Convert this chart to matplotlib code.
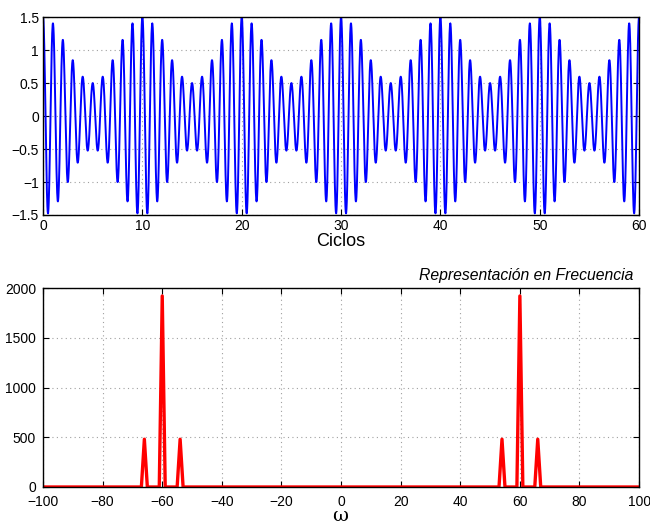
import numpy as np
import matplotlib
matplotlib.use("Agg")
import matplotlib.pyplot as plt
from matplotlib.ticker import FuncFormatter

plt.rcParams['font.family'] = ['Liberation Sans', 'DejaVu Sans']
plt.rcParams['mathtext.fontset'] = 'dejavuserif'

# ---- data ----
# time signal: AM tone, 60 carrier cycles, envelope with 6 cycles, modulation index 0.5
n_cycles = 60
carrier_cycles = 60
envelope_cycles = 6
mod_index = 0.5
samples_per_cycle = 64

# spectrum: non-zero bins (omega) and magnitudes
spec_omega = [-66, -60, -54, 54, 60, 66]
spec_mag = [480, 1920, 480, 480, 1920, 480]
omega_range = (-100, 100)

top_yticks = [-1.5, -1, -0.5, 0, 0.5, 1, 1.5]
top_xticks = [0, 10, 20, 30, 40, 50, 60]
bot_xticks = [-100, -80, -60, -40, -20, 0, 20, 40, 60, 80, 100]
bot_yticks = [0, 500, 1000, 1500, 2000]

# ---- build series ----
N = n_cycles * samples_per_cycle
t = np.arange(N + 1) / samples_per_cycle
x = (1 + mod_index * np.cos(2 * np.pi * envelope_cycles * t / n_cycles)) * \
    np.cos(2 * np.pi * carrier_cycles * t / n_cycles)

w = np.arange(omega_range[0], omega_range[1] + 1)
mag = np.zeros_like(w, dtype=float)
for o, m in zip(spec_omega, spec_mag):
    mag[w == o] = m


def fmt(v, pos):
    s = '%g' % v
    return s.replace('-', '\u2212')


fig = plt.figure(figsize=(6.5, 5.25), dpi=100)
ax1 = fig.add_axes([0.0662, 0.5905, 0.917, 0.377])
ax2 = fig.add_axes([0.0662, 0.0724, 0.917, 0.379])

grid_kw = dict(color='#a0a0a0', linestyle=(0, (1, 3)), linewidth=0.8)

ax1.plot(t, x, color='#0000ff', linewidth=1.4)
ax1.set_xlim(0, 60)
ax1.set_ylim(-1.5, 1.5)
ax1.set_xticks(top_xticks)
ax1.set_yticks(top_yticks)
ax1.yaxis.set_major_formatter(FuncFormatter(fmt))
ax1.grid(True, **grid_kw)
ax1.set_xlabel('Ciclos', fontsize=13, labelpad=0)

ax2.plot(w, mag, color='#ff0000', linewidth=2.4)
ax2.set_xlim(*omega_range)
ax2.set_ylim(0, 2000)
ax2.set_xticks(bot_xticks)
ax2.set_yticks(bot_yticks)
ax2.xaxis.set_major_formatter(FuncFormatter(fmt))
ax2.grid(True, **grid_kw)

for ax in (ax1, ax2):
    ax.tick_params(direction='in', top=True, right=True, length=4, width=0.8,
                   labelsize=10, pad=3)
    for s in ax.spines.values():
        s.set_linewidth(1.0)
    ax.set_axisbelow(True)
ax2.tick_params(axis='x', pad=6)
ax2.tick_params(axis='y', pad=5)

fig.text(0.5 * (43 + 639) / 650, 1 - 516.5 / 525, r'$\mathrm{\omega}$', fontsize=14,
         ha='center', va='center')
ax2.text(0.99, 1.025, 'Representación en Frecuencia', transform=ax2.transAxes,
         ha='right', va='bottom', fontsize=11.3, style='italic')

fig.savefig('out.png', dpi=100)
